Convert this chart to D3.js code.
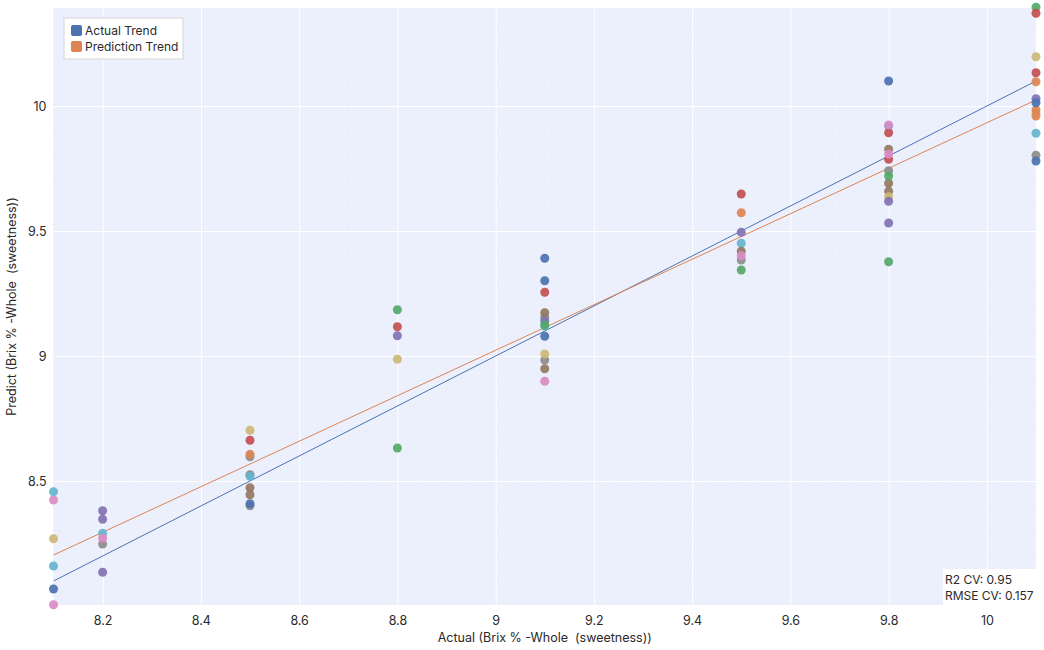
<!DOCTYPE html>
<html>
<head>
<meta charset="utf-8">
<script src="https://cdn.jsdelivr.net/npm/d3@7"></script>
<style>
  body { margin: 0; background: #fff; }
  text { font-family: Inter, "Noto Sans", sans-serif; fill: #2a2a2a; }
</style>
</head>
<body>
<div id="chart"></div>
<script>
// [actual, predicted] pairs, one array per marker colour
var greySeries = [[8.2, 8.248], [8.5, 8.597], [8.5, 8.525], [8.5, 8.401], [9.1, 9.155], [9.1, 8.984], [9.5, 9.384], [9.8, 9.741], [10.1, 9.803]];
var cyanSeries = [[8.1, 8.457], [8.1, 8.16], [8.2, 8.291], [8.5, 8.519], [9.1, 9.12], [9.5, 9.451], [9.8, 9.92], [10.1, 9.891]];
var brownSeries = [[8.5, 8.473], [8.5, 8.445], [9.1, 9.173], [9.1, 8.949], [9.5, 9.419], [9.8, 9.827], [9.8, 9.691], [9.8, 9.659]];
var yellowSeries = [[8.1, 8.269], [8.5, 8.703], [8.8, 8.987], [9.1, 9.008], [9.8, 9.637], [10.1, 10.197], [10.1, 9.971]];
var purpleSeries = [[8.2, 8.381], [8.2, 8.347], [8.2, 8.135], [8.8, 9.081], [9.1, 9.14], [9.5, 9.495], [9.8, 9.619], [9.8, 9.532], [10.1, 10.029]];
var greenSeries = [[8.8, 9.185], [8.8, 8.632], [9.1, 9.124], [9.5, 9.344], [9.8, 9.72], [9.8, 9.377], [10.1, 10.395]];
var redSeries = [[8.5, 8.663], [8.8, 9.117], [9.1, 9.255], [9.5, 9.648], [9.8, 9.893], [9.8, 9.787], [10.1, 10.371], [10.1, 10.133]];
var orangeSeries = [[8.5, 8.607], [9.5, 9.573], [10.1, 10.097], [10.1, 9.984], [10.1, 9.96]];
var blueSeries = [[8.1, 8.068], [8.5, 8.409], [9.1, 9.391], [9.1, 9.301], [9.1, 9.079], [9.8, 10.1], [10.1, 10.013], [10.1, 9.78]];
var pinkSeries = [[8.1, 8.424], [8.1, 8.005], [8.2, 8.271], [9.1, 8.899], [9.5, 9.401], [9.8, 9.924], [9.8, 9.808]];

// trend line end points
var actualTrend = [[8.1, 8.1], [10.1, 10.1]];
var predictionTrend = [[8.1, 8.204], [10.1, 10.024]];

var xTicks = [8.2, 8.4, 8.6, 8.8, 9, 9.2, 9.4, 9.6, 9.8, 10];
var yTicks = [8.5, 9, 9.5, 10];
var legendLabels = ["Actual Trend", "Prediction Trend"];
var statLines = ["R2 CV: 0.95", "RMSE CV: 0.157"];

var series = [
  { data: greySeries, color: "#8C8C8C" },
  { data: cyanSeries, color: "#64B5CD" },
  { data: brownSeries, color: "#937860" },
  { data: yellowSeries, color: "#CCB974" },
  { data: purpleSeries, color: "#8172B3" },
  { data: greenSeries, color: "#55A868" },
  { data: redSeries, color: "#C44E52" },
  { data: orangeSeries, color: "#DD8452" },
  { data: blueSeries, color: "#4C72B0" },
  { data: pinkSeries, color: "#DA8BC3" }
];

var width = 1044, height = 650;
var plotLeft = 53.5, plotRight = 1036, plotTop = 8, plotBottom = 605;

var svg = d3.select("#chart").append("svg")
  .attr("width", width)
  .attr("height", height);

var x = d3.scaleLinear().domain([8.1, 10.1]).range([plotLeft, plotRight]);
var y = d3.scaleLinear().domain([8.004, 10.392]).range([plotBottom, plotTop]);

svg.append("rect")
  .attr("x", plotLeft).attr("y", plotTop)
  .attr("width", plotRight - plotLeft).attr("height", plotBottom - plotTop)
  .attr("fill", "#ECF0FC");

// faint dotted minor grid
var grid = svg.append("g");
grid.selectAll(".minor-y")
  .data(d3.range(8.1, 10.39, 0.1))
  .enter().append("line")
  .attr("x1", plotLeft).attr("x2", plotRight)
  .attr("y1", function (d) { return y(d); })
  .attr("y2", function (d) { return y(d); })
  .attr("stroke", "#dfe5f4")
  .attr("stroke-dasharray", "1,5");
grid.selectAll(".minor-x")
  .data(d3.range(8.1, 10.1, 0.1))
  .enter().append("line")
  .attr("y1", plotTop).attr("y2", plotBottom)
  .attr("x1", function (d) { return x(d); })
  .attr("x2", function (d) { return x(d); })
  .attr("stroke", "#dfe5f4")
  .attr("stroke-dasharray", "1,5");

// major grid via axes
svg.append("g")
  .attr("transform", "translate(0," + plotBottom + ")")
  .call(d3.axisBottom(x).tickValues(xTicks).tickSize(-(plotBottom - plotTop)).tickFormat(d3.format("")))
  .call(function (g) {
    g.select(".domain").remove();
    g.selectAll(".tick line").attr("stroke", "#fff").attr("stroke-width", 1);
    g.selectAll(".tick text").attr("y", 20).attr("dy", "0").style("font-size", "12.5px").attr("fill", "#2a2a2a");
  });

svg.append("g")
  .attr("transform", "translate(" + plotLeft + ",0)")
  .call(d3.axisLeft(y).tickValues(yTicks).tickSize(-(plotRight - plotLeft)).tickFormat(d3.format("")))
  .call(function (g) {
    g.select(".domain").remove();
    g.selectAll(".tick line").attr("stroke", "#fff").attr("stroke-width", 1);
    g.selectAll(".tick text").attr("x", -7).style("font-size", "12.5px").attr("fill", "#2a2a2a");
  });

svg.append("clipPath").attr("id", "plot-clip")
  .append("rect")
  .attr("x", plotLeft).attr("y", plotTop)
  .attr("width", plotRight - plotLeft).attr("height", plotBottom - plotTop);

var line = d3.line()
  .x(function (d) { return x(d[0]); })
  .y(function (d) { return y(d[1]); });

var lines = svg.append("g").attr("clip-path", "url(#plot-clip)");

lines.append("path").datum(actualTrend)
  .attr("d", line).attr("fill", "none")
  .attr("stroke", "#4C72B0").attr("stroke-width", 1);
lines.append("path").datum(predictionTrend)
  .attr("d", line).attr("fill", "none")
  .attr("stroke", "#DD8452").attr("stroke-width", 1);

// markers are not clipped, they spill over the plot edge
var points = svg.append("g");
series.forEach(function (s) {
  points.append("g").selectAll("circle")
    .data(s.data)
    .enter().append("circle")
    .attr("cx", function (d) { return x(d[0]); })
    .attr("cy", function (d) { return y(d[1]); })
    .attr("r", 4.5)
    .attr("fill", s.color)
    .attr("fill-opacity", 0.92);
});

// legend
var legend = svg.append("g").attr("transform", "translate(64,18)");
legend.append("rect")
  .attr("width", 119).attr("height", 41)
  .attr("fill", "#fff").attr("stroke", "#d4d4d4").attr("stroke-width", 1);
var legendColors = ["#4C72B0", "#DD8452"];
legend.selectAll(".item")
  .data(legendLabels)
  .enter().append("g")
  .attr("transform", function (d, i) { return "translate(7," + (7 + i * 16) + ")"; })
  .each(function (d, i) {
    var g = d3.select(this);
    g.append("rect").attr("width", 11).attr("height", 11).attr("rx", 2)
      .attr("fill", legendColors[i]);
    g.append("text").attr("x", 14).attr("y", 10)
      .style("font-size", "12px").text(d);
  });

// stats box
var stats = svg.append("g").attr("transform", "translate(943,569)");
stats.append("rect").attr("width", plotRight - 943).attr("height", plotBottom - 569).attr("fill", "#fff");
stats.selectAll("text")
  .data(statLines)
  .enter().append("text")
  .attr("x", 2)
  .attr("y", function (d, i) { return 15 + i * 16; })
  .style("font-size", "12px")
  .text(function (d) { return d; });

// axis titles
svg.append("text")
  .attr("x", (plotLeft + plotRight) / 2).attr("y", 642)
  .attr("text-anchor", "middle")
  .style("font-size", "12.5px").style("white-space", "pre")
  .text("Actual (Brix % -Whole  (sweetness))");

svg.append("text")
  .attr("transform", "translate(16," + ((plotTop + plotBottom) / 2) + ")rotate(-90)")
  .attr("text-anchor", "middle")
  .style("font-size", "12.5px").style("white-space", "pre")
  .text("Predict (Brix % -Whole  (sweetness))");
</script>
</body>
</html>
